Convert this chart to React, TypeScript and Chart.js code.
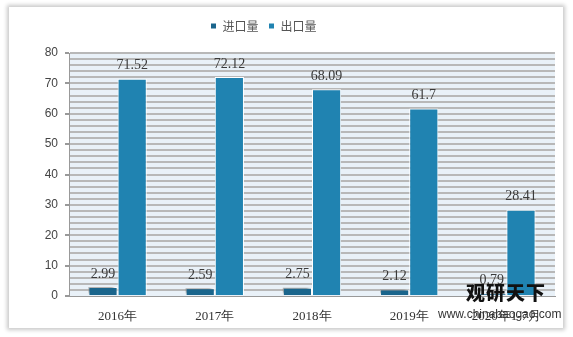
import React, { useEffect, useRef } from "react";
import { Chart, registerables } from "chart.js";

Chart.register(...registerables);

const categories = ["2016年", "2017年", "2018年", "2019年", "2020年1-7月"];
const importValues = [2.99, 2.59, 2.75, 2.12, 0.79];
const exportValues = [71.52, 72.12, 68.09, 61.7, 28.41];
const seriesNames = ["进口量", "出口量"];

const W = 573;
const H = 337;

const bgPlugin = {
  id: "plotBg",
  beforeDraw(chart: any) {
    const { ctx, chartArea } = chart;
    ctx.save();
    ctx.fillStyle = "#e9f1f8";
    ctx.fillRect(chartArea.left, chartArea.top, chartArea.right - chartArea.left, chartArea.bottom - chartArea.top);
    ctx.restore();
  },
};

const legendPatch = {
  id: "legendPatch",
  beforeLayout(chart: any) {
    const lg = chart.legend;
    if (lg && !lg._patched) {
      lg._patched = true;
      const of = lg.fit.bind(lg);
      lg.fit = function () {
        of();
        this.height += 11;
      };
      const od = lg.draw.bind(lg);
      lg.draw = function () {
        this.left -= 14;
        this.right -= 14;
        od();
        this.left += 14;
        this.right += 14;
      };
    }
  },
};

const shadowPlugin = {
  id: "barShadow",
  beforeDatasetDraw(chart: any, args: any) {
    if (args.index === 0) {
      const ctx = chart.ctx;
      ctx.save();
      ctx.shadowColor = "rgba(0,0,0,0.35)";
      ctx.shadowOffsetX = -3;
      ctx.shadowOffsetY = -2;
      ctx.shadowBlur = 3;
    }
  },
  afterDatasetDraw(chart: any, args: any) {
    if (args.index === 0) chart.ctx.restore();
  },
};

const labelPlugin = {
  id: "valueLabels",
  afterDatasetsDraw(chart: any) {
    const { ctx } = chart;
    ctx.save();
    ctx.font = "14px 'Liberation Serif', serif";
    ctx.fillStyle = "#3a3a3a";
    ctx.textAlign = "center";
    ctx.textBaseline = "middle";
    chart.data.datasets.forEach((ds: any, di: number) => {
      const meta = chart.getDatasetMeta(di);
      meta.data.forEach((bar: any, i: number) => {
        ctx.fillText(String(ds.data[i]), bar.x, bar.y - 13);
      });
    });
    ctx.restore();
  },
};

export default function App() {
  const ref = useRef<HTMLCanvasElement>(null);
  useEffect(() => {
    if (!ref.current) return;
    const chart = new Chart(ref.current, {
      type: "bar",
      data: {
        labels: categories,
        datasets: [
          {
            label: seriesNames[0],
            data: importValues,
            backgroundColor: "#1a658c",
            borderColor: "#ffffff",
            borderWidth: 1,
          },
          {
            label: seriesNames[1],
            data: exportValues,
            backgroundColor: "#2083b1",
            borderColor: "#ffffff",
            borderWidth: 1,
          },
        ],
      },
      options: {
        responsive: false,
        animation: false,
        devicePixelRatio: 1,
        layout: { padding: { left: 0, right: 18, top: 10, bottom: 0 } },
        datasets: { bar: { categoryPercentage: 0.6, barPercentage: 1.0 } },
        plugins: {
          legend: {
            position: "top",
            labels: {
              boxWidth: 6,
              boxHeight: 6,
              padding: 10,
              color: "#555",
              font: { size: 12, family: "'Noto Sans CJK SC', sans-serif" },
            },
          },
          tooltip: { enabled: false },
        },
        scales: {
          x: {
            grid: { display: false, drawTicks: false },
            border: { display: true, color: "#999", width: 1 },
            ticks: {
              padding: 13,
              color: "#333",
              font: { size: 13, family: "'Liberation Serif', serif" },
              autoSkip: false,
              maxRotation: 0,
            },
            afterFit(scale: any) {
              scale.height = 41;
            },
          },
          y: {
            min: 0,
            max: 80,
            grid: {
              color: (c: any) => (c.tick && c.tick.value === 0 ? "rgba(0,0,0,0)" : "#b8b8b8"),
              lineWidth: 2,
              tickLength: 4,
              tickColor: (c: any) => (c.tick && c.tick.value % 10 === 0 ? "#999" : "rgba(0,0,0,0)"),
            },
            border: { display: true, color: "#999", width: 1 },
            ticks: {
              stepSize: 2,
              autoSkip: false,
              padding: 7,
              color: "#444",
              font: { size: 12, family: "'Liberation Sans', sans-serif" },
              callback: (v: any) => (Number(v) % 10 === 0 ? String(v) : ""),
            },
            afterFit(scale: any) {
              scale.width = 69;
            },
          },
        },
      },
      plugins: [bgPlugin, legendPatch, shadowPlugin, labelPlugin],
    });
    return () => chart.destroy();
  }, []);

  return (
    <div style={{ position: "fixed", left: 0, top: 0, width: W, height: H, background: "#fff", overflow: "hidden" }}>
      <div
        style={{
          position: "absolute",
          left: 9,
          top: 7,
          width: 554,
          height: 321,
          background: "#fff",
          boxShadow: "0 0 4px 2px rgba(0,0,0,0.22)",
        }}
      />
      <canvas ref={ref} width={W} height={H} style={{ position: "absolute", left: 0, top: 0, width: W, height: H }} />
      <div
        style={{
          position: "absolute",
          left: 466,
          top: 281,
          fontFamily: "'Noto Sans CJK SC', sans-serif",
          fontWeight: 900,
          fontSize: 19,
          color: "#111",
          letterSpacing: 1,
          lineHeight: "22px",
        }}
      >
        观研天下
      </div>
      <div
        style={{
          position: "absolute",
          left: 438,
          top: 307,
          fontFamily: "'Liberation Sans', sans-serif",
          fontSize: 12,
          color: "#333",
          lineHeight: "14px",
        }}
      >
        www.chinabaogao.com
      </div>
    </div>
  );
}
